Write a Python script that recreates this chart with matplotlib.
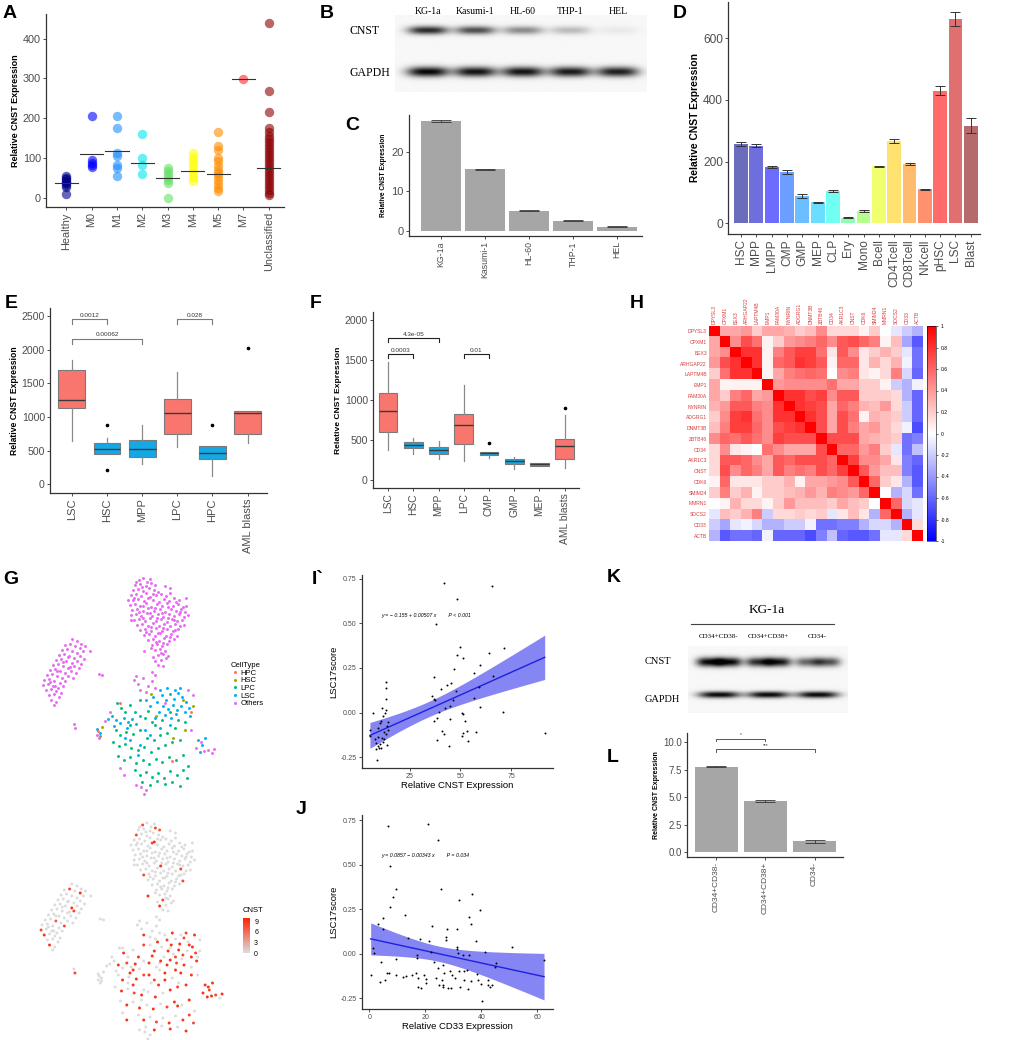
import matplotlib
matplotlib.use('Agg')
import matplotlib.pyplot as plt
from matplotlib.colors import LinearSegmentedColormap
from matplotlib.lines import Line2D
import numpy as np

plt.rcParams['font.family'] = ['Liberation Sans', 'DejaVu Sans']
plt.rcParams['axes.unicode_minus'] = False
SERIF = ['Liberation Serif', 'DejaVu Serif']

# ---------------- data ----------------
# A: CNST by FAB subtype
a_groups = ['Healthy', 'M0', 'M1', 'M2', 'M3', 'M4', 'M5', 'M7', 'Unclassified']
a_healthy = [10, 28, 33, 37, 40, 43, 47, 50, 55]
a_m0 = [205, 95, 88, 82, 78]
a_m1 = [205, 175, 112, 105, 82, 75, 55]
a_m2 = [160, 100, 82, 60]
a_m3 = [75, 68, 60, 52, 45, 38, 0]
a_m4 = [112, 100, 92, 82, 72, 62, 52, 42]
a_m5 = [165, 130, 120, 100, 92, 80, 70, 62, 55, 45, 35, 25, 18]
a_m7 = [298]
a_uncl = [440, 268, 215, 175, 165, 155, 148, 140, 132, 125, 118, 110, 102, 95,
          88, 80, 72, 65, 58, 50, 42, 35, 28, 20, 12, 8]
a_means = [37, 110, 117, 88, 49, 68, 61, 298, 76]
a_colors = ['#00008B', '#0000FF', '#1E90FF', '#00E5EE', '#66E066', '#FFFF00',
            '#FF8C00', '#FF2A2A', '#8B0000']

# B: western blot cell lines
b_lanes = ['KG-1a', 'Kasumi-1', 'HL-60', 'THP-1', 'HEL']
b_cnst = [0.85, 0.7, 0.45, 0.25, 0.06]
b_gapdh = [1.0, 0.95, 0.95, 0.92, 0.9]

# C: qPCR cell lines
c_values = [27.9, 15.6, 5.1, 2.5, 1.0]
c_errors = [0.3, 0.15, 0.2, 0.1, 0.1]

# D: sorted populations
d_groups = ['HSC', 'MPP', 'LMPP', 'CMP', 'GMP', 'MEP', 'CLP', 'Ery', 'Mono', 'Bcell',
            'CD4Tcell', 'CD8Tcell', 'NKcell', 'pHSC', 'LSC', 'Blast']
d_values = [257, 252, 182, 167, 88, 68, 104, 18, 40, 185, 267, 192, 110, 430, 662, 317]
d_errors = [5, 6, 4, 6, 6, 2, 3, 2, 2, 2, 6, 4, 2, 14, 22, 25]
d_colors = ['#6C6CBE', '#6E6EDD', '#6C6CFF', '#6B9EFF', '#6BBEFF', '#6BDDFF', '#70FFF0',
            '#8CFFB0', '#B5FF8E', '#F0FF6E', '#FFE36E', '#FFBC6E', '#FF926E', '#FF6B6B',
            '#E06F6F', '#B56B6B']

# E: boxplots dataset 1
e_groups = ['LSC', 'HSC', 'MPP', 'LPC', 'HPC', 'AML blasts']
e_q1 = [1129, 455, 411, 747, 371, 747]
e_med = [1247, 530, 530, 1059, 465, 1059]
e_q3 = [1703, 609, 653, 1262, 574, 1089]
e_lo = [644, 455, 297, 559, 119, 614]
e_hi = [1841, 683, 886, 1663, 574, 1089]
e_out = [[], [876, 208], [], [], [876], [2030]]
e_leuk = [True, False, False, True, False, True]
e_pvals = [(0, 1, 2450, '0.0012'), (0, 2, 2158, '0.00062'), (3, 4, 2450, '0.028')]

# F: boxplots dataset 2
f_groups = ['LSC', 'HSC', 'MPP', 'LPC', 'CMP', 'GMP', 'MEP', 'AML blasts']
f_q1 = [598, 403, 324, 445, 312, 204, 179, 266]
f_med = [856, 440, 370, 690, 332, 237, 200, 420]
f_q3 = [1081, 478, 416, 819, 349, 262, 212, 515]
f_lo = [370, 324, 258, 233, 278, 141, 170, 154]
f_hi = [1471, 528, 490, 1180, 349, 283, 212, 806]
f_out = [[], [], [], [], [461], [], [], [902]]
f_leuk = [True, False, False, True, False, False, False, True]
f_pvals = [(0, 2, 1766, '4.3e-05'), (0, 1, 1567, '0.0003'), (3, 4, 1567, '0.01')]

# H: correlation matrix
h_genes = ['DPYSL3', 'CPXM1', 'BEX3', 'ARHGAP22', 'LAPTM4B', 'EMP1', 'FAM30A', 'NYNRIN',
           'ADGRG1', 'DNMT3B', 'ZBTB46', 'CD34', 'AKR1C3', 'CNST', 'CDK6', 'SMIM24',
           'MMRN1', 'SOCS2', 'CD33', 'ACTB']
h_corr = [
    [1, .35, .35, .4, .2, .35, .35, .3, .2, .25, .45, .15, .15, .15, .05, .2, 0, -.1, -.2, -.3],
    [.35, 1, .45, .7, .55, .05, .2, .4, .45, .5, .6, .45, .65, .7, .6, .5, .05, .25, -.35, -.65],
    [.35, .45, 1, .8, .8, .05, .5, .65, .75, .75, .55, .1, .65, .45, .1, .2, .3, .2, -.1, -.55],
    [.4, .7, .8, 1, .8, .05, .6, .65, .8, .75, .65, .05, .6, .6, .1, .3, .15, .3, -.05, -.55],
    [.2, .55, .8, .8, 1, .05, .35, .5, .55, .6, .55, 0, .45, .5, .1, .05, .15, .5, -.15, -.6],
    [.35, .05, .05, .05, .05, 1, .4, .45, .45, .45, .45, .55, .35, .35, .2, .2, .05, -.2, -.3, -.05],
    [.35, .2, .5, .6, .35, .4, 1, .8, .8, .7, .75, .45, .65, .65, .2, .2, .2, .15, -.3, -.6],
    [.3, .4, .65, .65, .5, .45, .8, 1, .8, .75, .7, .35, .6, .5, .3, .25, .4, .15, -.2, -.6],
    [.2, .45, .75, .8, .55, .45, .8, .8, 1, .8, .7, .35, .7, .55, .05, .3, .25, .2, -.2, -.6],
    [.25, .5, .75, .75, .6, .45, .7, .75, .8, 1, .7, .35, .7, .5, .35, .4, .25, .15, -.05, -.7],
    [.45, .6, .55, .65, .55, .45, .75, .7, .7, .7, 1, .7, .7, .7, .35, .3, .25, .2, -.55, -.5],
    [.15, .45, .1, .05, 0, .55, .45, .35, .35, .35, .7, 1, .6, .6, .4, .5, .2, -.1, -.55, -.25],
    [.15, .65, .65, .6, .45, .35, .65, .6, .7, .7, .7, .6, 1, .75, .45, .45, .35, .1, -.5, -.6],
    [.15, .7, .45, .6, .5, .35, .65, .5, .55, .5, .7, .6, .75, 1, .65, .4, .25, .25, -.5, -.65],
    [.05, .6, .1, .1, .1, .2, .2, .3, .05, .35, .35, .4, .45, .65, 1, .6, .2, .1, -.3, -.65],
    [.2, .5, .2, .3, .05, .2, .2, .25, .3, .4, .3, .5, .45, .4, .6, 1, 0, -.3, -.15, -.55],
    [0, .05, .3, .15, .15, .05, .2, .4, .25, .25, .25, .2, .35, .25, .2, 0, 1, .6, -.15, -.1],
    [-.1, .25, .2, .3, .5, -.2, .15, .15, .2, .15, .2, -.1, .1, .25, .1, -.3, .6, 1, -.3, -.1],
    [-.2, -.35, -.1, -.05, -.15, -.3, -.3, -.2, -.2, -.05, -.55, -.55, -.5, -.5, -.3, -.15, -.15, -.3, 1, .15],
    [-.3, -.65, -.55, -.55, -.6, -.05, -.6, -.6, -.6, -.7, -.5, -.25, -.6, -.65, -.65, -.55, -.1, -.1, .15, 1],
]

# G: tSNE embedding (x, y, CNST expression) per cell type
g_others = [
    (139, 580, 8), (143, 578, 0), (147, 582, 0),
    (135, 585, 0), (140, 584, 0), (146, 586, 0), (151, 583, 8), (155, 585, 7),
    (133, 590, 8), (138, 589, 0), (143, 591, 0), (149, 588, 0), (154, 590, 0), (158, 592, 0),
    (131, 595, 0), (136, 594, 0), (141, 596, 0), (146, 593, 0), (150, 597, 9), (156, 595, 0),
    (161, 594, 0), (170, 593, 0),
    (133, 600, 0), (138, 599, 0), (144, 601, 0), (148, 598, 8), (153, 600, 0), (159, 602, 0),
    (164, 599, 0), (169, 601, 0), (174, 598, 0), (179, 600, 0),
    (130, 605, 0), (135, 604, 0), (140, 606, 0), (146, 603, 0), (151, 607, 0), (157, 604, 0),
    (162, 606, 0), (167, 603, 0), (173, 606, 0), (178, 604, 0), (183, 607, 0),
    (132, 610, 0), (137, 609, 0), (143, 611, 0), (148, 608, 0), (154, 611, 0), (160, 609, 0),
    (165, 612, 0), (171, 609, 0), (176, 611, 0), (181, 609, 0), (185, 612, 0),
    (131, 615, 0), (136, 614, 0), (141, 616, 0), (147, 613, 0), (152, 616, 0), (158, 614, 0),
    (163, 617, 0), (169, 614, 0), (174, 616, 0), (179, 614, 0), (184, 617, 0),
    (134, 620, 0), (139, 619, 0), (145, 621, 0), (150, 618, 0), (156, 621, 9), (161, 619, 0),
    (167, 622, 0), (172, 619, 0), (177, 621, 0), (182, 620, 0),
    (137, 625, 0), (142, 624, 0), (148, 626, 0), (153, 623, 0), (159, 626, 0), (164, 624, 0),
    (170, 626, 0), (175, 624, 8), (180, 626, 0),
    (140, 630, 8), (145, 629, 0), (151, 631, 0), (156, 628, 0), (162, 631, 0), (167, 629, 0),
    (173, 631, 0), (178, 629, 0),
    (144, 635, 0), (149, 634, 0), (155, 636, 0), (160, 633, 0), (166, 636, 0), (171, 634, 0),
    (177, 636, 8),
    (148, 640, 0), (153, 639, 0), (159, 641, 0), (164, 638, 0), (169, 641, 0), (174, 639, 0),
    (152, 645, 0), (157, 644, 0), (162, 646, 0), (167, 644, 0),
    (144, 651, 9), (155, 650, 0), (160, 649, 0), (165, 651, 0),
    (158, 655, 8), (163, 654, 0), (168, 656, 0),
    (155, 661, 9), (161, 660, 0), (166, 658, 0), (158, 665, 0), (163, 666, 0),
    (128, 600, 0), (186, 598, 0), (186, 606, 0), (188, 615, 0), (170, 588, 0), (165, 586, 0),
    (131, 620, 0), (184, 625, 0),
    (136, 582, 0), (150, 579, 0), (142, 587, 0), (153, 594, 0), (134, 598, 0), (166, 596, 0),
    (176, 602, 0), (143, 606, 0), (155, 608, 0), (168, 607, 0), (180, 612, 0), (139, 612, 0),
    (150, 613, 0), (162, 613, 0), (174, 620, 0), (143, 618, 0), (157, 618, 0), (168, 618, 0),
    (151, 627, 0), (163, 628, 0), (175, 630, 0), (146, 632, 0), (158, 633, 0), (170, 637, 0),
    (156, 642, 0), (163, 643, 0), (151, 648, 0), (161, 653, 0), (153, 657, 0),
    # left cluster
    (72, 639, 0), (77, 641, 0), (81, 644, 0),
    (65, 645, 0), (70, 644, 8), (75, 646, 0), (80, 648, 9), (85, 646, 0),
    (62, 650, 0), (67, 649, 0), (72, 651, 0), (77, 653, 0), (83, 651, 0),
    (59, 655, 0), (64, 654, 0), (69, 656, 0), (74, 658, 0), (80, 656, 0), (84, 659, 0),
    (56, 660, 0), (61, 659, 0), (66, 661, 0), (72, 663, 9), (77, 661, 0), (81, 664, 0),
    (53, 665, 0), (58, 664, 0), (63, 666, 0), (68, 668, 0), (74, 666, 8), (79, 668, 0),
    (50, 670, 0), (55, 669, 0), (60, 671, 0), (65, 673, 0), (71, 671, 0), (76, 673, 0),
    (47, 675, 0), (52, 674, 0), (57, 676, 7), (62, 678, 0), (68, 676, 0), (73, 678, 0),
    (44, 680, 0), (49, 679, 0), (54, 681, 0), (60, 683, 0), (65, 681, 8),
    (43, 685, 8), (48, 684, 0), (53, 686, 0), (58, 688, 0), (63, 686, 0),
    (46, 690, 9), (51, 689, 0), (56, 691, 0), (61, 693, 0),
    (49, 695, 0), (54, 694, 0), (59, 697, 0), (51, 700, 9), (56, 702, 0), (54, 705, 0),
    (68, 657, 0), (63, 662, 0), (57, 671, 0), (70, 667, 0), (50, 682, 0), (55, 686, 0),
    (90, 651, 0), (99, 674, 0), (102, 675, 0), (74, 724, 0), (75, 728, 8),
    # around main cluster
    (134, 680, 0), (138, 684, 0), (143, 678, 0), (148, 686, 0), (152, 681, 0), (155, 688, 0),
    (146, 692, 0), (140, 690, 9), (136, 676, 0), (152, 672, 0), (155, 675, 0),
    (165, 703, 0), (188, 690, 9), (193, 695, 0), (110, 712, 0), (105, 721, 0),
    (120, 768, 0), (124, 775, 9), (136, 785, 0), (141, 787, 0), (146, 790, 0), (144, 794, 0),
    (191, 730, 0), (196, 748, 9), (204, 751, 9), (208, 750, 8), (212, 753, 0), (214, 749, 9),
    (201, 742, 9), (97, 735, 0), (99, 738, 0),
]
g_lsc = [
    (153, 697, 9), (157, 702, 0), (162, 695, 8), (166, 700, 9), (170, 694, 0), (174, 699, 9),
    (178, 693, 8), (182, 697, 0), (186, 702, 9), (163, 706, 9), (168, 709, 0), (173, 705, 9),
    (177, 710, 8), (181, 706, 0), (185, 712, 9), (189, 708, 8), (159, 712, 0), (165, 715, 9),
    (171, 718, 8), (176, 714, 0), (190, 716, 9), (160, 690, 0), (167, 688, 9), (175, 690, 0),
    (180, 688, 8), (146, 700, 0), (150, 706, 9), (155, 718, 0),
    (108, 719, 0), (112, 716, 0), (116, 720, 9), (120, 723, 0), (124, 718, 8), (128, 722, 0),
    (132, 719, 9), (136, 724, 0), (114, 726, 0), (127, 728, 9), (140, 716, 0),
    (130, 740, 9), (140, 745, 0), (150, 735, 8), (160, 728, 9), (138, 755, 0), (145, 730, 9),
    (125, 738, 0), (170, 725, 9), (97, 729, 0), (100, 733, 0),
    (198, 740, 9), (202, 745, 8), (205, 738, 9), (200, 752, 9),
]
g_lpc = [
    (117, 703, 0), (121, 708, 9), (130, 705, 0), (140, 700, 8), (148, 711, 9), (155, 725, 0),
    (135, 712, 9), (125, 712, 0),
    (116, 730, 0), (120, 735, 9), (126, 732, 0), (133, 734, 9), (140, 730, 8), (147, 738, 0),
    (154, 740, 9), (160, 735, 9), (167, 733, 0), (175, 728, 9),
    (113, 742, 0), (119, 746, 9), (125, 744, 0), (131, 748, 8), (138, 750, 9), (144, 747, 0),
    (151, 752, 9), (158, 748, 0), (165, 745, 9), (172, 742, 8), (180, 740, 9),
    (118, 756, 0), (124, 760, 9), (130, 757, 0), (136, 763, 9), (143, 760, 0), (149, 764, 9),
    (156, 759, 0), (162, 762, 8), (169, 757, 9), (176, 760, 0), (183, 755, 9),
    (135, 770, 0), (140, 775, 9), (146, 772, 0), (152, 777, 8), (158, 773, 0), (164, 778, 9),
    (170, 771, 0), (177, 775, 9), (183, 770, 8), (188, 766, 0),
    (142, 782, 0), (150, 785, 9), (157, 781, 0), (165, 784, 9), (172, 782, 0), (180, 786, 9),
    (187, 778, 8),
    (145, 718, 9), (152, 722, 0), (162, 720, 9), (170, 712, 8), (178, 720, 9), (185, 722, 0),
    (130, 725, 9),
]
g_hsc = [(151, 694, 0), (183, 700, 9), (193, 706, 0), (185, 730, 9), (173, 738, 0),
         (102, 727, 0), (100, 736, 0), (156, 716, 9)]
g_hpc = [(120, 703, 0), (172, 761, 9), (191, 712, 0), (98, 731, 0)]
g_types = ['HPC', 'HSC', 'LPC', 'LSC', 'Others']
g_colors = ['#F8766D', '#A3A500', '#00BF7D', '#00B0F6', '#E76BF3']

# I: LSC17 score vs CNST
i_x = [41.8, 65.5, 48.5, 38.2, 49.8, 71.4, 64.1, 48.4, 51.5, 59.9, 47.0, 56.7, 66.3, 37.0,
       13.2, 45.6, 43.6, 59.4, 13.2, 40.3, 48.0, 35.9, 13.2, 37.0, 37.7, 56.9, 46.4, 42.4,
       11.5, 45.1, 59.5, 13.3, 39.5, 6.7, 50.8, 51.2, 70.9, 12.7, 11.8, 38.7, 44.7, 52.5,
       37.0, 10.9, 10.2, 14.5, 13.8, 9.5, 5.4, 14.3, 41.1, 53.5, 57.9, 51.2, 41.8, 12.2,
       91.6, 13.2, 5.6, 50.7, 9.2, 11.2, 38.7, 53.8, 8.1, 12.3, 8.6, 10.4, 9.5, 10.7, 44.6,
       13.7, 11.7, 8.7, 9.7, 8.2]
i_y = [0.727, 0.71, 0.635, 0.494, 0.365, 0.361, 0.333, 0.322, 0.307, 0.264, 0.243, 0.219,
       0.206, 0.198, 0.169, 0.165, 0.155, 0.142, 0.135, 0.133, 0.120, 0.092, 0.077, 0.075,
       0.071, 0.082, 0.073, 0.028, 0.024, 0.036, 0.034, 0.015, 0.006, -0.004, -0.002,
       -0.007, 0.006, -0.004, -0.021, -0.030, -0.034, -0.045, -0.049, -0.045, -0.060,
       -0.054, -0.073, -0.086, -0.096, -0.096, -0.105, -0.105, -0.109, -0.114, -0.120,
       -0.107, -0.114, -0.122, -0.129, -0.129, -0.135, -0.140, -0.152, -0.159, -0.146,
       -0.150, -0.172, -0.178, -0.187, -0.199, -0.189, -0.184, -0.167, -0.266, -0.200, -0.202]
i_coef = (-0.155, 0.00507)

# J: LSC17 score vs CD33
j_x = [6.8, 20.8, 24.5, 7.3, 9.4, 8.5, 25.5, 36.7, 32.1, 7.5, 39.4, 12.7, 35.7, 5.0, 36.3,
       3.1, 22.3, 4.8, 27.9, 31.2, 13.7, 18.2, 27.3, 27.3, 21.5, 38.1, 31.2, 51.1, 1.4, 31.3,
       1.8, 22.1, 41.3, 31.5, 16.9, 33.5, 35.7, 9.6, 16.9, 4.2, 23.1, 45.4, 26.2, 24.5, 45.0,
       33.8, 34.9, 29.0, 32.1, 62.4, 6.3, 7.0, 0.5, 9.5, 16.8, 26.7, 29.5, 38.3, 13.1, 15.1,
       19.4, 17.5, 24.0, 30.6, 12.0, 20.2, 36.4, 4.0, 5.5, 20.2, 25.0, 33.8, 38.9, 39.9,
       42.4, 43.9, 42.4, 17.4, 18.5, 26.3, 28.2, 29.3, 32.4, 35.4, 43.0, 26.5, 40.2, 26.1]
j_y = [0.716, 0.729, 0.639, 0.496, 0.367, 0.321, 0.363, 0.335, 0.305, 0.265, 0.246, 0.220,
       0.205, 0.199, 0.169, 0.165, 0.158, 0.137, 0.137, 0.137, 0.088, 0.086, 0.092, 0.079,
       0.073, 0.073, 0.041, 0.036, 0.030, 0.026, 0.006, 0.008, 0.013, 0.002, -0.006, -0.006,
       -0.009, -0.030, -0.021, -0.045, -0.047, -0.051, -0.060, -0.077, -0.075, -0.094,
       -0.090, -0.094, -0.098, -0.034, -0.109, -0.109, -0.117, -0.118, -0.109, -0.109,
       -0.117, -0.111, -0.126, -0.118, -0.118, -0.135, -0.135, -0.137, -0.132, -0.139,
       -0.150, -0.160, -0.148, -0.162, -0.173, -0.145, -0.148, -0.171, -0.145, -0.173,
       -0.173, -0.186, -0.190, -0.186, -0.190, -0.190, -0.186, -0.197, -0.186, -0.173,
       -0.265, -0.148]
j_coef = (0.0857, -0.00343)

# K: western blot of sorted KG-1a fractions
k_lanes = ['CD34+CD38-', 'CD34+CD38+', 'CD34-']
k_cnst = [[1.0, 1.0], [0.85, 0.95], [0.6, 0.7]]
k_gapdh = [1.0, 1.0, 1.0]

# L: qPCR sorted fractions
l_values = [7.8, 4.62, 0.98]
l_errors = [0.07, 0.1, 0.12]

# ---------------- drawing ----------------
W, H = 1010, 1040
fig = plt.figure(figsize=(W / 100, H / 100), dpi=100)


def px_axes(l, t, r, b):
    return fig.add_axes([l / W, 1 - b / H, (r - l) / W, (b - t) / H])


def gg_style(ax, size):
    for s in ('top', 'right'):
        ax.spines[s].set_visible(False)
    for s in ('left', 'bottom'):
        ax.spines[s].set_color('#333333')
        ax.spines[s].set_linewidth(0.9)
    ax.tick_params(colors='#333333', labelcolor='#4D4D4D', labelsize=size,
                   length=2.2, width=0.6, pad=1.5)


def panel_label(x, y, s):
    fig.text(x / W, 1 - y / H, s, fontsize=14, fontweight='bold', va='center', ha='left')


def blot(ax, bands, xlim, ylim):
    xs = np.linspace(xlim[0], xlim[1], 400)
    ys = np.linspace(ylim[0], ylim[1], 120)
    X, Y = np.meshgrid(xs, ys)
    dark = np.zeros_like(X)
    for cx, cy, inten, wx, wy in bands:
        dark += inten * np.exp(-np.abs((X - cx) / wx) ** 3) * np.exp(-((Y - cy) / wy) ** 2)
    img = 0.97 - 0.95 * np.clip(dark, 0, 1)
    ax.imshow(img, cmap='gray', vmin=0, vmax=1, aspect='auto', interpolation='bilinear',
              extent=(xlim[0], xlim[1], ylim[1], ylim[0]))
    ax.set_xlim(xlim)
    ax.set_ylim(ylim[1], ylim[0])
    ax.axis('off')


# A
ax = px_axes(46, 14, 284, 207)
a_values = [a_healthy, a_m0, a_m1, a_m2, a_m3, a_m4, a_m5, a_m7, a_uncl]
for i, (vals, col) in enumerate(zip(a_values, a_colors)):
    ax.scatter(np.full(len(vals), i), vals, s=46, color=col, alpha=0.6, linewidths=0)
    ax.plot([i - 0.46, i + 0.46], [a_means[i]] * 2, color='#333333', lw=0.8)
ax.set_xlim(-0.8, 8.6)
ax.set_ylim(-23, 462)
ax.set_xticks(range(len(a_groups)))
ax.set_xticklabels(a_groups, rotation=90)
ax.set_yticks([0, 100, 200, 300, 400])
ax.set_ylabel('Relative CNST Expression', fontsize=6.5, fontweight='bold', labelpad=2)
gg_style(ax, 7.8)
panel_label(3, 13, 'A')

# B
ax = px_axes(395, 15, 647, 92)
bl = (-0.69, 4.61)
bands = [(i, 0, v, 0.42, 0.1) for i, v in enumerate(b_cnst)]
bands += [(i, 1, v, 0.44, 0.12) for i, v in enumerate(b_gapdh)]
blot(ax, bands, bl, (-0.36, 1.48))
for i, name in enumerate(b_lanes):
    ax.text(i, -0.45, name, ha='center', va='center', fontsize=7, family=SERIF,
            clip_on=False)
fig.text(349 / W, 1 - 31 / H, 'CNST', fontsize=8.5, family=SERIF, va='center')
fig.text(349 / W, 1 - 73 / H, 'GAPDH', fontsize=8.5, family=SERIF, va='center')
panel_label(320, 13, 'B')

# C
ax = px_axes(409, 115, 642, 236)
ax.bar(range(5), c_values, width=0.9, color='#A6A6A6')
ax.errorbar(range(5), c_values, yerr=c_errors, fmt='none', ecolor='#333333',
            elinewidth=0.6, capsize=7, capthick=0.6)
ax.set_xlim(-0.72, 4.57)
ax.set_ylim(-1.35, 29.4)
ax.set_xticks(range(5))
ax.set_xticklabels(b_lanes, rotation=90)
ax.set_yticks([0, 10, 20])
ax.set_ylabel('Relative CNST Expression', fontsize=4.8, fontweight='bold', labelpad=3)
gg_style(ax, 8)
ax.tick_params(axis='x', labelsize=6.3)
panel_label(345, 125, 'C')

# D
ax = px_axes(728, 2, 980, 234)
ax.bar(range(len(d_groups)), d_values, width=0.9, color=d_colors)
ax.errorbar(range(len(d_groups)), d_values, yerr=d_errors, fmt='none', ecolor='#333333',
            elinewidth=0.7, capsize=3.5, capthick=0.7)
ax.set_xlim(-0.85, 15.6)
ax.set_ylim(-35, 718)
ax.set_xticks(range(len(d_groups)))
ax.set_xticklabels(d_groups, rotation=90)
ax.set_yticks([0, 200, 400, 600])
ax.set_ylabel('Relative CNST Expression', fontsize=7.4, fontweight='bold', labelpad=2)
gg_style(ax, 8.6)
panel_label(673, 13, 'D')


def boxes(ax, q1, med, q3, lo, hi, out, leuk, width):
    stats = []
    for k in range(len(q1)):
        stats.append({'q1': q1[k], 'med': med[k], 'q3': q3[k], 'whislo': lo[k],
                      'whishi': hi[k], 'fliers': out[k]})
    bp = ax.bxp(stats, positions=range(len(q1)), widths=width, patch_artist=True,
                showcaps=False,
                boxprops=dict(edgecolor='#7A7A7A', linewidth=0.8),
                whiskerprops=dict(color='#8A8A8A', linewidth=0.9),
                medianprops=dict(color='#3A3A3A', linewidth=1.0),
                flierprops=dict(marker='o', markersize=1.6, markerfacecolor='black',
                                markeredgecolor='black'))
    for patch, red in zip(bp['boxes'], leuk):
        patch.set_facecolor('#F8766D' if red else '#14A9E6')


def brackets(ax, pvals, tip, color, size, gap):
    for a, b, y, txt in pvals:
        ax.plot([a, a, b, b], [y - tip, y, y, y - tip], color=color, lw=0.8)
        ax.text((a + b) / 2, y + gap, txt, ha='center', va='bottom', fontsize=size,
                color='#333333')


# E
ax = px_axes(50, 308, 267, 493)
boxes(ax, e_q1, e_med, e_q3, e_lo, e_hi, e_out, e_leuk, 0.76)
brackets(ax, e_pvals, 75, '#7A7A7A', 4.6, 25)
ax.set_xlim(-0.62, 5.55)
ax.set_ylim(-129, 2620)
ax.set_xticks(range(len(e_groups)))
ax.set_xticklabels(e_groups, rotation=90)
ax.set_yticks([0, 500, 1000, 1500, 2000, 2500])
ax.set_ylabel('Relative CNST Expression', fontsize=6.2, fontweight='bold', labelpad=2)
gg_style(ax, 7.6)
ax.tick_params(axis='x', labelsize=8)
panel_label(5, 303, 'E')

# F
ax = px_axes(373, 312, 579, 488)
boxes(ax, f_q1, f_med, f_q3, f_lo, f_hi, f_out, f_leuk, 0.74)
brackets(ax, f_pvals, 46, '#222222', 4.6, 18)
ax.set_xlim(-0.6, 7.57)
ax.set_ylim(-100, 2095)
ax.set_xticks(range(len(f_groups)))
ax.set_xticklabels(f_groups, rotation=90)
ax.set_yticks([0, 500, 1000, 1500, 2000])
ax.set_ylabel('Relative CNST Expression', fontsize=6.1, fontweight='bold', labelpad=2)
gg_style(ax, 7.6)
ax.tick_params(axis='x', labelsize=7.4)
panel_label(310, 303, 'F')

# H
ax = px_axes(709, 326, 923, 541)
corr = np.array(h_corr)
corr = (corr + corr.T) / 2
im = ax.imshow(corr, cmap='bwr', vmin=-1, vmax=1, aspect='auto', interpolation='nearest')
ax.set_xticks(range(len(h_genes)))
ax.set_xticklabels(h_genes, rotation=90, fontsize=3.6, color='#D83C3C')
ax.xaxis.tick_top()
ax.set_yticks(range(len(h_genes)))
ax.set_yticklabels(h_genes, fontsize=3.6, color='#D83C3C')
ax.tick_params(length=0, pad=1.5)
for s in ax.spines.values():
    s.set_visible(False)
cax = px_axes(927, 326, 936, 541)
cb = fig.colorbar(im, cax=cax, ticks=np.linspace(-1, 1, 11))
cb.ax.set_yticklabels(['-1', '-0.8', '-0.6', '-0.4', '-0.2', '0', '0.2', '0.4', '0.6',
                       '0.8', '1'])
cb.ax.tick_params(labelsize=3.6, length=1.2, width=0.4, pad=2)
cb.outline.set_linewidth(0.4)
panel_label(630, 303, 'H')

# G top: cell types
g_sets = [g_hpc, g_hsc, g_lpc, g_lsc, g_others]
ax = px_axes(30, 570, 225, 800)
for pts, col in zip([g_others, g_lpc, g_lsc, g_hsc, g_hpc],
                    [g_colors[4], g_colors[2], g_colors[3], g_colors[1], g_colors[0]]):
    arr = np.array(pts, dtype=float)
    ax.scatter(arr[:, 0], arr[:, 1], s=4.5, color=col, linewidths=0)
ax.set_xlim(30, 225)
ax.set_ylim(800, 570)
ax.axis('off')
handles = [Line2D([], [], marker='o', ls='', ms=2.2, color=c, mec='none') for c in g_colors]
leg = fig.legend(handles, g_types, loc='upper left', bbox_to_anchor=(227 / W, 1 - 658 / H),
                 frameon=False, title='CellType', fontsize=5.5, title_fontsize=5.5,
                 handletextpad=0.1, labelspacing=0.05, borderpad=0, handlelength=1.2)
leg._legend_box.align = 'left'
panel_label(3, 580, 'G')

# G bottom: CNST expression
allpts = np.array([p for pts in g_sets for p in pts], dtype=float)
order = np.argsort(allpts[:, 2], kind='stable')
allpts = allpts[order]
ax = px_axes(27.3, 815, 233.7, 1045)
cmap = LinearSegmentedColormap.from_list('cnst', ['#DCDCDC', '#FF2200'])
sc = ax.scatter(allpts[:, 0], allpts[:, 1], c=allpts[:, 2], cmap=cmap, vmin=0, vmax=10,
                s=4.5, linewidths=0)
ax.set_xlim(30, 225)
ax.set_ylim(800, 570)
ax.axis('off')
cax = px_axes(243, 918, 250, 953)
cb = fig.colorbar(sc, cax=cax, ticks=[0, 3, 6, 9])
cb.outline.set_visible(False)
cb.ax.tick_params(labelsize=5, length=1.5, width=0.5, color='white', pad=1.5)
fig.text(243 / W, 1 - 911 / H, 'CNST', fontsize=5.5, va='center')


def reg_panel(ax, xs_data, ys_data, coef, xlim, ylim, xticks, xlabel, eq):
    x = np.array(xs_data)
    y = np.array(ys_data)
    b0, b1 = coef
    res = y - (b0 + b1 * x)
    n = len(x)
    s = np.sqrt(np.sum(res ** 2) / (n - 2))
    xm = x.mean()
    sxx = np.sum((x - xm) ** 2)
    xx = np.linspace(x.min(), x.max(), 100)
    fit = b0 + b1 * xx
    se = s * np.sqrt(1 / n + (xx - xm) ** 2 / sxx)
    ax.fill_between(xx, fit - 1.99 * se, fit + 1.99 * se, color='#8585F3', lw=0)
    ax.plot(xx, fit, color='#2020E0', lw=1)
    ax.scatter(x, y, s=2, color='black', linewidths=0, zorder=3)
    ax.set_xlim(xlim)
    ax.set_ylim(ylim)
    ax.set_xticks(xticks)
    ax.set_yticks([-0.25, 0, 0.25, 0.5, 0.75])
    ax.set_yticklabels(['-0.25', '0.00', '0.25', '0.50', '0.75'])
    ax.set_xlabel(xlabel, fontsize=6.8, labelpad=0.5)
    ax.set_ylabel('LSC17score', fontsize=6.8, labelpad=2)
    gg_style(ax, 5)
    ax.text(0.1, 0.79, eq, transform=ax.transAxes, fontsize=3.8, va='center',
            style='italic')


# I
ax = px_axes(362, 575, 553, 768)
reg_panel(ax, i_x, i_y, i_coef, (1.5, 95.7), (-0.31, 0.77), [25, 50, 75],
          'Relative CNST Expression',
          'y = \u2212 0.155 + 0.00507 x        P < 0.001')
panel_label(312, 580, 'I`')

# J
ax = px_axes(362, 815, 553, 1009)
reg_panel(ax, j_x, j_y, j_coef, (-2.6, 65.6), (-0.31, 0.78), [0, 20, 40, 60],
          'Relative CD33 Expression',
          'y = 0.0857 \u2212 0.00343 x        P = 0.034')
panel_label(296, 810, 'J')

# K
ax = px_axes(688, 646, 847, 713)
kl = (-0.63, 2.61)
bands = []
for i, (left, right) in enumerate(k_cnst):
    bands.append((i - 0.2, 0, left, 0.26, 0.14))
    bands.append((i + 0.2, 0, right, 0.26, 0.14))
bands += [(i, 1, v, 0.42, 0.1) for i, v in enumerate(k_gapdh)]
blot(ax, bands, kl, (-0.48, 1.55))
for i, name in enumerate(k_lanes):
    ax.text(i, -0.78, name, ha='center', va='center', fontsize=5, family=SERIF,
            clip_on=False)
fig.text(767 / W, 1 - 610 / H, 'KG-1a', fontsize=9.5, family=SERIF, ha='center',
         va='center')
fig.add_artist(Line2D([691 / W, 834 / W], [1 - 624 / H, 1 - 624 / H], color='#444444',
                      lw=0.8))
fig.text(645 / W, 1 - 661 / H, 'CNST', fontsize=7.5, family=SERIF, va='center')
fig.text(645 / W, 1 - 700 / H, 'GAPDH', fontsize=7.5, family=SERIF, va='center')
panel_label(607, 578, 'K')

# L
ax = px_axes(687, 733, 843, 857)
ax.bar(range(3), l_values, width=0.89, color='#A6A6A6')
ax.errorbar(range(3), l_values, yerr=l_errors, fmt='none', ecolor='#333333',
            elinewidth=0.6, capsize=7, capthick=0.6)
ax.plot([0, 0, 1, 1], [10.12, 10.3, 10.3, 10.12], color='#555555', lw=0.7)
ax.text(0.5, 10.45, '*', ha='center', va='bottom', fontsize=3.5, color='#333333')
ax.plot([0, 0, 2, 2], [9.08, 9.36, 9.36, 9.08], color='#555555', lw=0.7)
ax.text(1, 9.5, '***', ha='center', va='bottom', fontsize=3.5, color='#333333')
ax.set_xlim(-0.6, 2.58)
ax.set_ylim(-0.46, 10.86)
ax.set_xticks(range(3))
ax.set_xticklabels(k_lanes, rotation=90)
ax.set_yticks([0, 2.5, 5, 7.5, 10])
ax.set_yticklabels(['0.0', '2.5', '5.0', '7.5', '10.0'])
ax.set_ylabel('Relative CNST Expression', fontsize=5, fontweight='bold', labelpad=2)
gg_style(ax, 7)
ax.tick_params(axis='x', labelsize=6)
panel_label(607, 757, 'L')

fig.savefig('out.png', dpi=100)
